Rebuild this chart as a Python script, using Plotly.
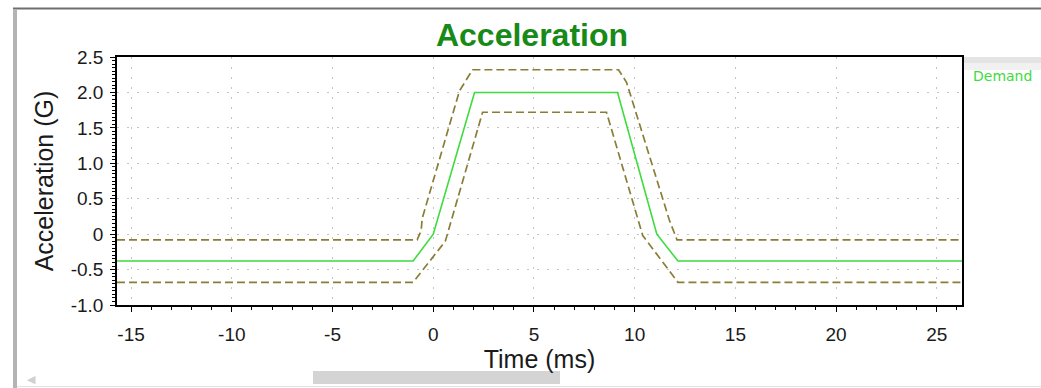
import plotly.graph_objects as go

# ---- data ----
demand_t = [-15.7, -1.0, 0.0, 2.05, 9.15, 11.1, 12.15, 26.3]
demand_g = [-0.38, -0.38, 0.0, 2.0, 2.0, 0.0, -0.38, -0.38]

upper_t = [-15.7, -0.8, -0.6, -0.55, 1.3, 1.95, 9.2, 9.6, 11.72, 12.1, 26.3]
upper_g = [-0.08, -0.08, 0.05, 0.22, 2.02, 2.32, 2.32, 2.14, 0.2, -0.08, -0.08]

lower_t = [-15.7, -1.0, 0.6, 2.45, 8.6, 10.4, 12.15, 26.3]
lower_g = [-0.68, -0.68, -0.1, 1.72, 1.72, -0.02, -0.68, -0.68]

x_ticks = [-15, -10, -5, 0, 5, 10, 15, 20, 25]
x_tick_text = ["-15", "-10", "-5", "0", "5", "10", "15", "20", "25"]
y_ticks = [2.5, 2.0, 1.5, 1.0, 0.5, 0, -0.5, -1.0]
y_tick_text = ["2.5", "2.0", "1.5", "1.0", "0.5", "0", "-0.5", "-1.0"]

W, H = 1041, 388
L, R, T, B = 117, 962, 57, 305


def px(x):
    return (x - L) / (R - L)


def py(y):
    return (B - y) / (B - T)


DASH_COLOR = "#8a7e36"
GREEN = "#3ddc3d"

fig = go.Figure()
fig.add_trace(go.Scatter(x=upper_t, y=upper_g, mode="lines", name="Upper",
                         line=dict(color=DASH_COLOR, width=1.7, dash="8px,4px"),
                         showlegend=False, hoverinfo="skip"))
fig.add_trace(go.Scatter(x=lower_t, y=lower_g, mode="lines", name="Lower",
                         line=dict(color=DASH_COLOR, width=1.7, dash="8px,4px"),
                         showlegend=False, hoverinfo="skip"))
fig.add_trace(go.Scatter(x=demand_t, y=demand_g, mode="lines", name="Demand",
                         line=dict(color=GREEN, width=1.6),
                         showlegend=False))

axis_font = dict(family="Liberation Sans, Arial, sans-serif", size=19, color="#1a1a1a")
title_font = dict(family="Liberation Sans, Arial, sans-serif", size=25, color="#1a1a1a")

fig.update_xaxes(
    range=[-15.7, 26.25], tickvals=x_ticks, ticktext=x_tick_text, ticks="outside",
    ticklen=5, tickwidth=1, tickcolor="black", tickfont=axis_font, ticklabelstandoff=6,
    showline=True, linecolor="black", linewidth=1.5, mirror=True,
    showgrid=True, gridcolor="#c4c4c4", gridwidth=1, griddash="2px,8px",
    zeroline=False,
    minor=dict(dtick=1, ticks="outside", ticklen=3, tickcolor="black", showgrid=False),
    title=dict(text="Time (ms)", font=title_font, standoff=4),
)
fig.update_yaxes(
    range=[-1.0, 2.5], tickvals=y_ticks, ticktext=y_tick_text, ticks="outside",
    ticklen=5, tickwidth=1, tickcolor="black", tickfont=axis_font, ticklabelstandoff=3,
    showline=True, linecolor="black", linewidth=1.5, mirror=True,
    showgrid=True, gridcolor="#c4c4c4", gridwidth=1, griddash="2px,8px",
    zeroline=False,
    minor=dict(dtick=0.05, ticks="outside", ticklen=3, tickcolor="black", showgrid=False),
    title=dict(text="Acceleration (G)", font=title_font, standoff=10),
)

shapes = [
    # outer window frame lines
    dict(type="line", xref="paper", yref="paper", x0=px(13), x1=px(1041), y0=py(8.5), y1=py(8.5),
         line=dict(color="#6e6e6e", width=2)),
    dict(type="rect", xref="paper", yref="paper", x0=px(13), x1=px(17), y0=py(9), y1=py(388),
         fillcolor="#b4b4b4", line=dict(width=0)),
    dict(type="line", xref="paper", yref="paper", x0=px(17), x1=px(1041), y0=py(386.5), y1=py(386.5),
         line=dict(color="#e2e2e2", width=1)),
    # scrollbar thumb
    dict(type="rect", xref="paper", yref="paper", x0=px(313), x1=px(560), y0=py(384), y1=py(371),
         fillcolor="#d4d4d4", line=dict(width=0)),
    # legend box top shading
    dict(type="rect", xref="paper", yref="paper", x0=px(964), x1=px(1041), y0=py(57), y1=py(63),
         fillcolor="#e4e4e4", line=dict(width=0), layer="below"),
    dict(type="rect", xref="paper", yref="paper", x0=px(964), x1=px(1041), y0=py(63), y1=py(70),
         fillcolor="#f1f1f1", line=dict(width=0), layer="below"),
]

annotations = [
    dict(text="Demand", xref="paper", yref="paper", x=px(971), y=py(76), xanchor="left",
         yanchor="middle", showarrow=False,
         font=dict(family="DejaVu Sans, Verdana, sans-serif", size=14, color=GREEN)),
    dict(text="◀", xref="paper", yref="paper", x=px(31), y=py(378), xanchor="center",
         yanchor="middle", showarrow=False, font=dict(size=11, color="#d0d0d0")),
]

fig.update_layout(
    width=W, height=H, autosize=False,
    margin=dict(l=L, r=W - R, t=T, b=H - B, pad=0),
    paper_bgcolor="white", plot_bgcolor="white",
    title=dict(text="<b>Acceleration</b>", x=532 / W, xanchor="center", y=1 - 35 / H,
               yanchor="middle",
               font=dict(family="Liberation Sans, Arial, sans-serif", size=32, color="#178a17")),
    shapes=shapes, annotations=annotations, showlegend=False,
)

fig.write_html("out.html")
